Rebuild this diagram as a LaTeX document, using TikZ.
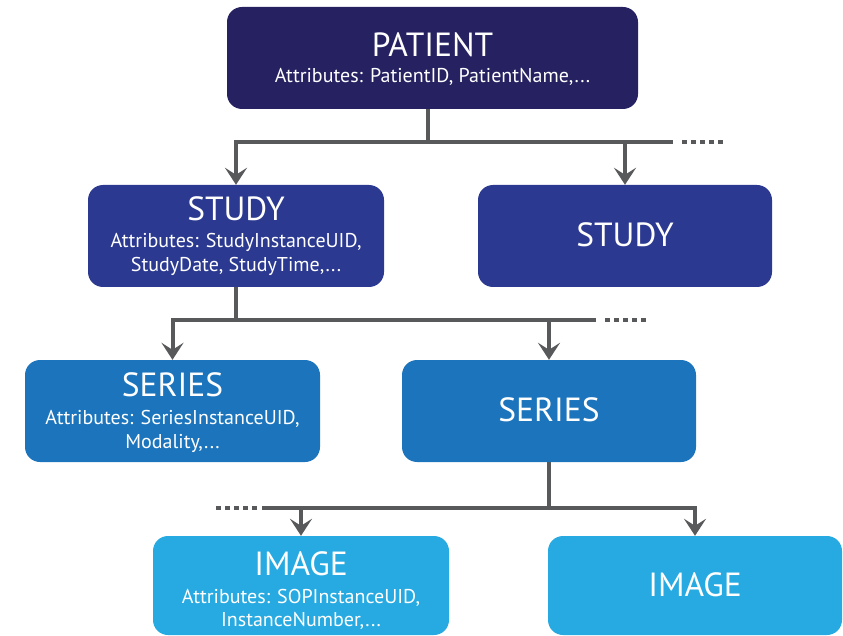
\documentclass[tikz,border=0pt]{standalone}
\usepackage{fontspec}
\setmainfont{PT Sans}
\usetikzlibrary{arrows.meta}
\definecolor{cpatient}{HTML}{262262}
\definecolor{cstudy}{HTML}{2B3990}
\definecolor{cseries}{HTML}{1C75BC}
\definecolor{cimage}{HTML}{27AAE1}
\definecolor{cline}{HTML}{58595B}
\tikzset{
  box/.style={rectangle, rounded corners=15pt, inner sep=0pt, draw=none},
  ttl/.style={anchor=base, text=white, inner sep=0pt, font=\fontsize{33.5}{33.5}\selectfont},
  attr/.style={anchor=base, text=white, inner sep=0pt, font=\fontsize{20}{24}\selectfont},
  conn/.style={draw=cline, line width=4pt},
  arr/.style={conn, -{Stealth[length=17pt,width=22pt,inset=7pt]}},
  dotline/.style={draw=cline, line width=4pt, dash pattern=on 5pt off 4pt}
}
\begin{document}
\begin{tikzpicture}[x=1pt,y=-1pt]
\useasboundingbox (0,0) rectangle (843,636);
% boxes
\node[box, fill=cpatient, minimum width=411pt, minimum height=102pt] (patient) at (432.5,58) {};
\node[box, fill=cstudy, minimum width=296pt, minimum height=102pt] (study1) at (236,236) {};
\node[box, fill=cstudy, minimum width=294pt, minimum height=102pt] (study2) at (625,236) {};
\node[box, fill=cseries, minimum width=295pt, minimum height=102pt] (series1) at (172.5,411) {};
\node[box, fill=cseries, minimum width=294pt, minimum height=102pt] (series2) at (549,411) {};
\node[box, fill=cimage, minimum width=296pt, minimum height=99pt] (image1) at (301,585.5) {};
\node[box, fill=cimage, minimum width=294pt, minimum height=99pt] (image2) at (695,585.5) {};
% texts
\node[ttl] (tpatient) at (432.5,57) {PATIENT};
\node[attr] (apatient) at (432.5,83) {Attributes: PatientID, PatientName,...};
\node[ttl] (tstudy1) at (236,221) {STUDY};
\node[attr] (astudy1a) at (236,248) {Attributes: StudyInstanceUID,};
\node[attr] (astudy1b) at (236,272) {StudyDate, StudyTime,...};
\node[ttl] (tstudy2) at (625,247) {STUDY};
\node[ttl] (tseries1) at (172.5,396) {SERIES};
\node[attr] (aseries1a) at (172.5,424) {Attributes: SeriesInstanceUID,};
\node[attr] (aseries1b) at (172.5,448) {Modality,...};
\node[ttl] (tseries2) at (549,421) {SERIES};
\node[ttl] (timage1) at (301,575) {IMAGE};
\node[attr] (aimage1a) at (301,603) {Attributes: SOPInstanceUID,};
\node[attr] (aimage1b) at (301,626) {InstanceNumber,...};
\node[ttl] (timage2) at (695,596) {IMAGE};
% level 1 connectors
\coordinate (j1) at (428,142);
\coordinate (e1) at (673,142);
\coordinate (d1a) at (682,142);
\coordinate (d1b) at (723,142);
\draw[conn] (patient.south -| j1) -- (j1);
\draw[arr] (j1) -| (study1.north);
\draw[arr] (j1) -| (study2.north);
\draw[conn] (study2.north |- j1) -- (e1);
\draw[dotline] (d1a) -- (d1b);
% level 2 connectors
\coordinate (j2) at (236,320);
\coordinate (e2) at (596,320);
\coordinate (d2a) at (605,320);
\coordinate (d2b) at (646,320);
\draw[conn] (study1.south) -- (j2);
\draw[arr] (j2) -| (series1.north);
\draw[arr] (j2) -| (series2.north);
\draw[conn] (series2.north |- j2) -- (e2);
\draw[dotline] (d2a) -- (d2b);
% level 3 connectors
\coordinate (j3) at (549,508);
\coordinate (e3) at (262,508);
\coordinate (d3a) at (216,508);
\coordinate (d3b) at (257,508);
\draw[conn] (series2.south) -- (j3);
\draw[arr] (j3) -| (image1.north);
\draw[arr] (j3) -| (image2.north);
\draw[conn] (image1.north |- j3) -- (e3);
\draw[dotline] (d3a) -- (d3b);
\end{tikzpicture}
\end{document}
